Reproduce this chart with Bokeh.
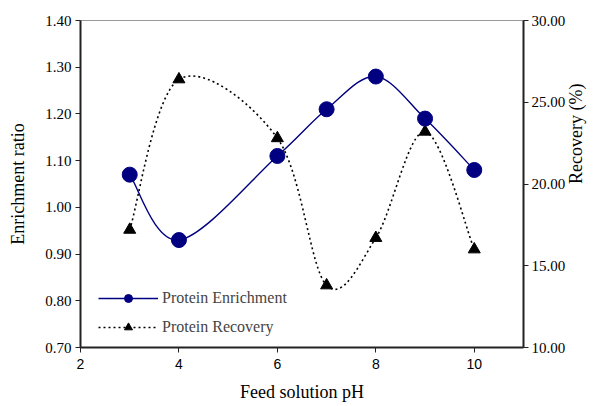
import math
from bokeh.plotting import figure
from bokeh.models import (Range1d, LinearAxis, FixedTicker, NumeralTickFormatter,
                          Legend, LegendItem, ColumnDataSource)
from bokeh.embed import file_html
from bokeh.resources import INLINE

ph = [3, 4, 6, 7, 8, 9, 10]
enrichment = [1.07, 0.93, 1.11, 1.21, 1.28, 1.19, 1.08]
recovery = [17.2, 26.4, 22.8, 13.8, 16.7, 23.2, 16.0]

x_ticks = [2, 4, 6, 8, 10]
left_ticks = [0.7, 0.8, 0.9, 1.0, 1.1, 1.2, 1.3, 1.4]
right_ticks = [10, 15, 20, 25, 30]


def smooth_segments(xs, ys, k=1.0 / 6.0):
    n = len(xs)
    d = dict(x0=[], y0=[], x1=[], y1=[], cx0=[], cy0=[], cx1=[], cy1=[])
    for i in range(n - 1):
        xp, yp = (xs[i - 1], ys[i - 1]) if i > 0 else (xs[i], ys[i])
        xn, yn = (xs[i + 2], ys[i + 2]) if i + 2 < n else (xs[i + 1], ys[i + 1])
        d["x0"].append(xs[i]); d["y0"].append(ys[i])
        d["x1"].append(xs[i + 1]); d["y1"].append(ys[i + 1])
        d["cx0"].append(xs[i] + (xs[i + 1] - xp) * k)
        d["cy0"].append(ys[i] + (ys[i + 1] - yp) * k)
        d["cx1"].append(xs[i + 1] - (xn - xs[i]) * k)
        d["cy1"].append(ys[i + 1] - (yn - ys[i]) * k)
    return ColumnDataSource(d)


p = figure(width=599, height=406, output_backend="svg", toolbar_location=None,
           x_range=Range1d(2, 11), y_range=Range1d(0.7, 1.4),
           min_border_left=80, min_border_top=20, min_border_right=76,
           min_border_bottom=59)
p.extra_y_ranges = {"rec": Range1d(10, 30)}
p.xgrid.visible = False
p.ygrid.visible = False
p.outline_line_color = "#999999"
p.outline_line_width = 1
p.background_fill_color = "white"
p.border_fill_color = "white"

serif = "Liberation Serif"

# left axis
ly = p.yaxis[0]
ly.ticker = FixedTicker(ticks=left_ticks)
ly.formatter = NumeralTickFormatter(format="0.00")
ly.axis_label = "Enrichment ratio"

# right axis
ry = LinearAxis(y_range_name="rec", ticker=FixedTicker(ticks=right_ticks),
                formatter=NumeralTickFormatter(format="0.00"), axis_label="Recovery (%)")
p.add_layout(ry, "right")

ax = p.xaxis[0]
ax.ticker = FixedTicker(ticks=x_ticks)
ax.axis_label = "Feed solution pH"

for a in [ly, ry, ax]:
    a.axis_line_color = "#222222"
    a.axis_line_width = 2
    a.major_tick_line_color = "#222222"
    a.major_tick_in = 0
    a.major_tick_out = 5
    a.minor_tick_line_color = None
    a.major_label_text_color = "black"
    a.major_label_text_font = serif
    a.major_label_text_font_size = "15px"
    a.axis_label_text_font = serif
    a.axis_label_text_font_size = "18px"
    a.axis_label_text_font_style = "normal"
    a.axis_label_text_color = "black"
ax.major_label_text_font = "Liberation Sans"
ax.major_label_text_font_size = "14px"
ax.major_label_standoff = 6
ax.axis_label_standoff = 10
ly.major_label_standoff = 4
ly.axis_label_standoff = 14
ry.major_label_standoff = 3
ry.axis_label_standoff = 8
ry.axis_label_orientation = math.pi / 2

# recovery (dotted, right axis)
rec_curve = p.bezier(x0="x0", y0="y0", x1="x1", y1="y1", cx0="cx0", cy0="cy0",
                     cx1="cx1", cy1="cy1", source=smooth_segments(ph, recovery),
                     line_color="black", line_width=1.6, line_dash="2 3",
                     y_range_name="rec")
rec_pts = p.scatter(ph, recovery, marker="triangle", size=12, fill_color="black",
                    line_color="black", y_range_name="rec")

# enrichment (solid navy)
enr_curve = p.bezier(x0="x0", y0="y0", x1="x1", y1="y1", cx0="cx0", cy0="cy0",
                     cx1="cx1", cy1="cy1", source=smooth_segments(ph, enrichment),
                     line_color="#000080", line_width=1.4)
enr_pts = p.scatter(ph, enrichment, marker="circle", size=15, fill_color="#000080",
                    line_color="#000080")

legend = Legend(items=[
    LegendItem(label="Protein Enrichment", renderers=[enr_curve, enr_pts]),
    LegendItem(label="Protein Recovery", renderers=[rec_curve, rec_pts]),
], location=(18, 10), orientation="vertical")
legend.glyph_width = 60
legend.glyph_height = 20
legend.spacing = 9
legend.padding = 0
legend.margin = 0
legend.label_standoff = 4
legend.label_text_font = serif
legend.label_text_font_size = "16px"
legend.border_line_alpha = 0
legend.background_fill_alpha = 0
p.add_layout(legend)

open("out.html", "w").write(file_html(p, INLINE))
